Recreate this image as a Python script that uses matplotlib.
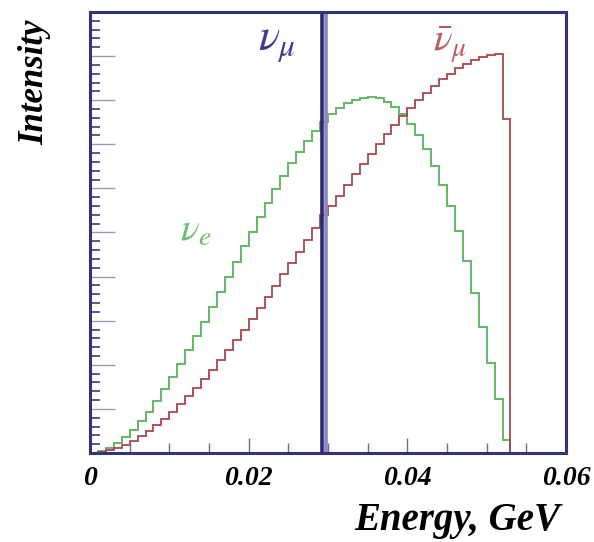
import numpy as np
import matplotlib
matplotlib.use("Agg")
import matplotlib.pyplot as plt
from matplotlib.ticker import MultipleLocator

plt.rcParams["mathtext.fontset"] = "stix"

# energy binning (GeV)
bin_width = 0.001
n_bins = 53

# nu_e spectrum, arbitrary units per bin
nu_e = [0.001, 0.004, 0.012, 0.022, 0.036, 0.053, 0.072, 0.094, 0.118, 0.145,
        0.173, 0.202, 0.233, 0.265, 0.298, 0.332, 0.366, 0.400, 0.434, 0.469,
        0.502, 0.535, 0.568, 0.599, 0.629, 0.657, 0.683, 0.708, 0.730, 0.750,
        0.768, 0.782, 0.793, 0.801, 0.806, 0.807, 0.804, 0.796, 0.784, 0.768,
        0.747, 0.720, 0.689, 0.651, 0.608, 0.559, 0.504, 0.435, 0.362, 0.285,
        0.205, 0.122, 0.030]

# anti nu_mu spectrum, arbitrary units per bin
nu_mu_bar = [0.000, 0.002, 0.006, 0.011, 0.019, 0.028, 0.038, 0.050, 0.063, 0.078,
             0.093, 0.110, 0.129, 0.148, 0.168, 0.189, 0.210, 0.233, 0.256, 0.280,
             0.304, 0.329, 0.354, 0.379, 0.405, 0.430, 0.456, 0.482, 0.510, 0.540,
             0.560, 0.583, 0.608, 0.632, 0.656, 0.679, 0.701, 0.723, 0.744, 0.764,
             0.782, 0.800, 0.817, 0.832, 0.847, 0.860, 0.872, 0.882, 0.890, 0.897,
             0.902, 0.905, 0.757]

# monoenergetic nu_mu line (GeV)
nu_mu_energy = 0.0295

edges = np.arange(n_bins + 1) * bin_width

frame_col = "#33337d"
green = "#62b862"
red = "#a8464a"

fig = plt.figure(figsize=(5.94, 5.42), dpi=100)
ax = fig.add_axes([0.1515, 0.1642, 0.8014, 0.8137])

ax.stairs(nu_e, edges, color=green, lw=1.4, baseline=0)
ax.stairs(nu_mu_bar, edges, color=red, lw=1.3, baseline=0)

# nu_mu line: dark core with a lighter edge
ax.axvline(nu_mu_energy - 0.0003, color="#2a2a6c", lw=2.6)
ax.axvline(nu_mu_energy + 0.0003, color="#8a86c6", lw=2.6)

ax.set_xlim(0, 0.06)
ax.set_ylim(0, 1.0)

for s in ax.spines.values():
    s.set_color(frame_col)
    s.set_linewidth(2.2)

tick_font = dict(family="Liberation Serif", weight="bold", style="italic", size=20)
ax.xaxis.set_major_locator(MultipleLocator(0.02))
ax.xaxis.set_minor_locator(MultipleLocator(0.005))
ax.set_xticks([0, 0.02, 0.04, 0.06])
ax.set_xticklabels(["0", "0.02", "0.04", "0.06"], fontdict=tick_font)
ax.yaxis.set_major_locator(MultipleLocator(0.1))
ax.yaxis.set_minor_locator(MultipleLocator(0.02))
ax.set_yticklabels([])
ax.tick_params(axis="x", which="major", direction="in", length=11, width=1,
               color="#6a6aa0", pad=9)
ax.tick_params(axis="x", which="minor", direction="in", length=7, width=1,
               color="#6a6aa0")
ax.tick_params(axis="y", which="major", direction="in", length=18, width=1,
               color="#9a9ab8", left=True, right=False)
ax.tick_params(axis="y", which="minor", direction="in", length=7, width=1.2,
               color="#3a3a80", left=True, right=False)

label_font = dict(family="Liberation Serif", weight="bold", style="italic")
fig.text(0.77, 0.04, "Energy, GeV", ha="center", va="center",
         fontsize=28, **label_font)
fig.text(0.059, 0.848, "Intensity", ha="center", va="center",
         rotation=90, fontsize=25, **label_font)

ax.text(0.0212, 0.93, r"$\nu_\mu$", color="#3c3c8c", fontsize=32,
        ha="left", va="center")
ax.text(0.0432, 0.925, r"$\bar{\nu}_\mu$", color="#c05a5a", fontsize=28,
        ha="left", va="center")
ax.text(0.0113, 0.505, r"$\nu_e$", color="#6cc06c", fontsize=28,
        ha="left", va="center")

fig.savefig("out.png", dpi=100)
